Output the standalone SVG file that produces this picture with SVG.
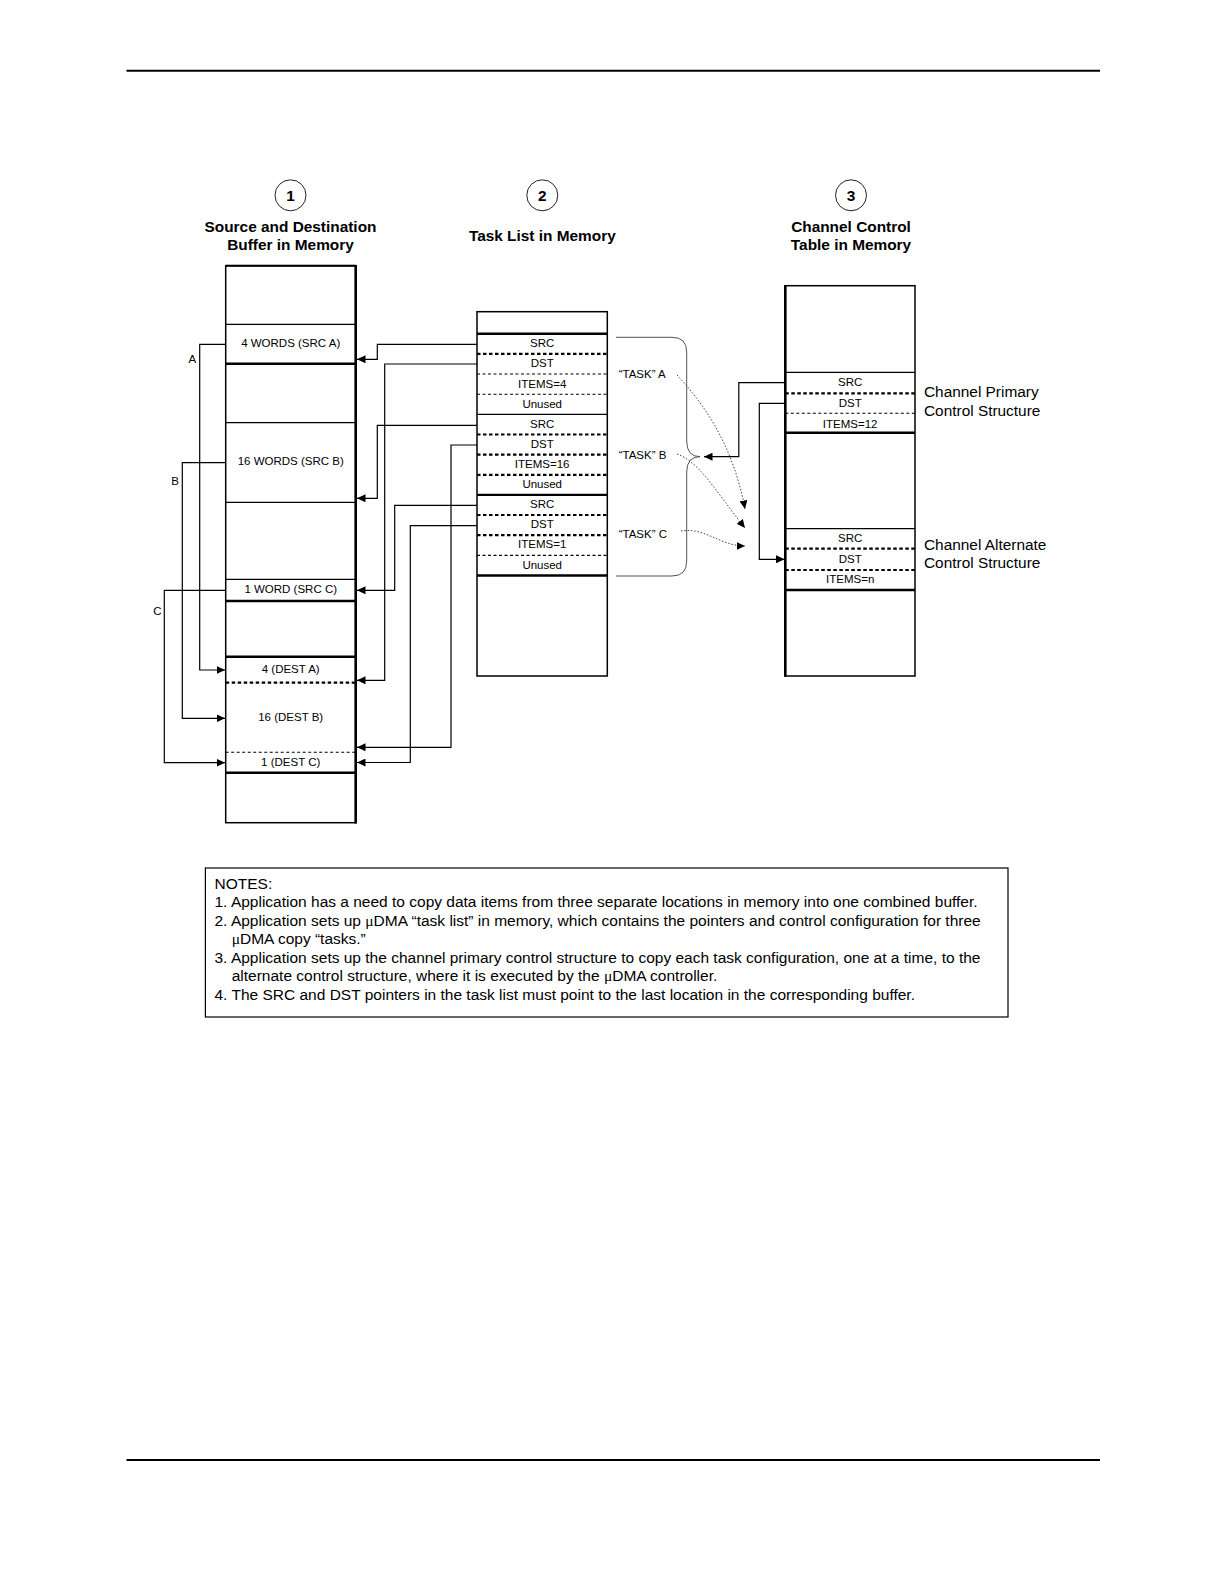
<svg xmlns="http://www.w3.org/2000/svg" width="1224" height="1584" viewBox="0 0 1224 1584">
<defs>
<style>
text{font-family:"Liberation Sans",Arial,sans-serif;fill:#000}
.sm{font-size:11.5px;text-anchor:middle}
.lbl{font-size:11.5px}
.hd{font-size:15.4px;font-weight:bold;text-anchor:middle}
.big{font-size:15.4px}
.nt{font-size:15.5px}
.box{fill:#fff;stroke:#000;stroke-width:1.5}
.thin{stroke:#000;stroke-width:1.2;fill:none}
.thick{stroke:#000;stroke-width:2.4;fill:none}
.dthk{stroke:#000;stroke-width:2.2;stroke-dasharray:3.5 2.5;fill:none}
.dthn{stroke:#000;stroke-width:1.1;stroke-dasharray:3 2.5;fill:none}
.conn{stroke:#000;stroke-width:1.2;fill:none}
.dot{stroke:#444;stroke-width:1;stroke-dasharray:1.5 1.8;fill:none}
.brace{stroke:#555;stroke-width:1;fill:none}
.circ{fill:#fff;stroke:#222;stroke-width:1}
</style>
<marker id="ah" markerUnits="userSpaceOnUse" markerWidth="9" markerHeight="8" refX="8.5" refY="4" orient="auto">
<path d="M0,0 L8.5,4 L0,8 z" fill="#000"/>
</marker>
</defs>
<rect width="1224" height="1584" fill="#fff"/>
<g id="page-rules">
<line x1="126.5" y1="70.8" x2="1100" y2="70.8" stroke="#000" stroke-width="2"/>
<line x1="126.5" y1="1460" x2="1100" y2="1460" stroke="#000" stroke-width="2"/>
</g>

<g id="header-1">
<circle class="circ" cx="290.5" cy="195.3" r="15.5"/>
<text class="hd" x="290.5" y="200.8">1</text>
<text class="hd" x="290.5" y="232">Source and Destination</text>
<text class="hd" x="290.5" y="249.8">Buffer in Memory</text>
</g>
<g id="header-2">
<circle class="circ" cx="542.3" cy="195.3" r="15.5"/>
<text class="hd" x="542.3" y="200.8">2</text>
<text class="hd" x="542.3" y="241.3">Task List in Memory</text>
</g>
<g id="header-3">
<circle class="circ" cx="851" cy="195.3" r="15.5"/>
<text class="hd" x="851" y="200.8">3</text>
<text class="hd" x="851" y="232">Channel Control</text>
<text class="hd" x="851" y="249.8">Table in Memory</text>
</g>

<g id="buffer-memory">
<rect class="box" x="225.7" y="265.7" width="130" height="557"/>
<line x1="225.7" y1="265.7" x2="355.7" y2="265.7" stroke="#000" stroke-width="2"/>
<line x1="355.7" y1="265" x2="355.7" y2="823.5" stroke="#000" stroke-width="2.6"/>
<line class="thin" x1="225.7" y1="324.3" x2="355.7" y2="324.3"/>
<line class="thick" x1="225.7" y1="363.7" x2="355.7" y2="363.7"/>
<line class="thin" x1="225.7" y1="422.7" x2="355.7" y2="422.7"/>
<line class="thin" x1="225.7" y1="502.3" x2="355.7" y2="502.3"/>
<line class="thin" x1="225.7" y1="579.3" x2="355.7" y2="579.3"/>
<line class="thick" x1="225.7" y1="601" x2="355.7" y2="601"/>
<line class="thick" x1="225.7" y1="656.7" x2="355.7" y2="656.7"/>
<line class="dthk" x1="225.7" y1="682.7" x2="355.7" y2="682.7"/>
<line class="dthn" x1="225.7" y1="752.3" x2="355.7" y2="752.3"/>
<line class="thick" x1="225.7" y1="772.7" x2="355.7" y2="772.7"/>
<text class="sm" x="290.7" y="346.8">4 WORDS (SRC A)</text>
<text class="sm" x="290.7" y="465.1">16 WORDS (SRC B)</text>
<text class="sm" x="290.7" y="593.1">1 WORD (SRC C)</text>
<text class="sm" x="290.7" y="673.4">4 (DEST A)</text>
<text class="sm" x="290.7" y="721.4">16 (DEST B)</text>
<text class="sm" x="290.7" y="766.4">1 (DEST C)</text>
</g>

<g id="task-list">
<rect class="box" x="477" y="311.7" width="130.3" height="364.3"/>
<line class="thick" x1="477" y1="333.7" x2="607.3" y2="333.7"/>
<line class="dthk" x1="477" y1="353.8" x2="607.3" y2="353.8"/>
<line class="dthn" x1="477" y1="374" x2="607.3" y2="374"/>
<line class="dthn" x1="477" y1="394.2" x2="607.3" y2="394.2"/>
<line class="thin" x1="477" y1="414.3" x2="607.3" y2="414.3"/>
<line class="dthk" x1="477" y1="434.5" x2="607.3" y2="434.5"/>
<line class="dthk" x1="477" y1="454.6" x2="607.3" y2="454.6"/>
<line class="dthk" x1="477" y1="474.8" x2="607.3" y2="474.8"/>
<line class="thick" x1="477" y1="494.9" x2="607.3" y2="494.9"/>
<line class="dthk" x1="477" y1="515" x2="607.3" y2="515"/>
<line class="dthk" x1="477" y1="535.2" x2="607.3" y2="535.2"/>
<line class="dthn" x1="477" y1="555.4" x2="607.3" y2="555.4"/>
<line class="thick" x1="477" y1="575.5" x2="607.3" y2="575.5"/>
<text class="sm" x="542.2" y="346.8">SRC</text>
<text class="sm" x="542.2" y="366.8">DST</text>
<text class="sm" x="542.2" y="388.1">ITEMS=4</text>
<text class="sm" x="542.2" y="408.1">Unused</text>
<text class="sm" x="542.2" y="428.1">SRC</text>
<text class="sm" x="542.2" y="448.4">DST</text>
<text class="sm" x="542.2" y="468.1">ITEMS=16</text>
<text class="sm" x="542.2" y="487.8">Unused</text>
<text class="sm" x="542.2" y="508.1">SRC</text>
<text class="sm" x="542.2" y="528.1">DST</text>
<text class="sm" x="542.2" y="548.1">ITEMS=1</text>
<text class="sm" x="542.2" y="569.1">Unused</text>
</g>

<g id="channel-control-table">
<rect class="box" x="785.3" y="285.7" width="129.7" height="390.3"/>
<line x1="785.3" y1="285" x2="785.3" y2="676.7" stroke="#000" stroke-width="2.6"/>
<line class="thin" x1="785.3" y1="372.3" x2="915" y2="372.3"/>
<line class="dthk" x1="785.3" y1="393.3" x2="915" y2="393.3"/>
<line class="dthn" x1="785.3" y1="413.3" x2="915" y2="413.3"/>
<line class="thick" x1="785.3" y1="432.7" x2="915" y2="432.7"/>
<line class="thin" x1="785.3" y1="528.7" x2="915" y2="528.7"/>
<line class="dthk" x1="785.3" y1="548.7" x2="915" y2="548.7"/>
<line class="dthk" x1="785.3" y1="570" x2="915" y2="570"/>
<line class="thick" x1="785.3" y1="590" x2="915" y2="590"/>
<text class="sm" x="850.2" y="385.8">SRC</text>
<text class="sm" x="850.2" y="406.8">DST</text>
<text class="sm" x="850.2" y="427.6">ITEMS=12</text>
<text class="sm" x="850.2" y="542.4">SRC</text>
<text class="sm" x="850.2" y="563.4">DST</text>
<text class="sm" x="850.2" y="583.4">ITEMS=n</text>
</g>

<g id="channel-labels">
<text class="big" x="924" y="397">Channel Primary</text>
<text class="big" x="924" y="415.5">Control Structure</text>
<text class="big" x="924" y="549.5">Channel Alternate</text>
<text class="big" x="924" y="567.5">Control Structure</text>
</g>

<g id="task-labels">
<path class="brace" d="M616,337.3 H672 Q686.7,337.3 686.7,352 V441 Q686.7,456.7 700,456.7 Q686.7,456.7 686.7,472 V561 Q686.7,576 672,576 H616"/>
<text class="lbl" x="618.7" y="378.1">“TASK” A</text>
<text class="lbl" x="618.7" y="459.1">“TASK” B</text>
<text class="lbl" x="618.7" y="538.1">“TASK” C</text>
</g>

<g id="connectors">
<path class="conn" marker-end="url(#ah)" d="M477,344.3 H377.3 V359.3 H357"/>
<path class="conn" marker-end="url(#ah)" d="M477,364 H384.7 V680.3 H357"/>
<path class="conn" marker-end="url(#ah)" d="M477,425.3 H377.3 V498.3 H357"/>
<path class="conn" marker-end="url(#ah)" d="M477,445 H451 V747.3 H357"/>
<path class="conn" marker-end="url(#ah)" d="M477,505.3 H394.7 V590.3 H357"/>
<path class="conn" marker-end="url(#ah)" d="M477,525.7 H410.3 V762.5 H357"/>
<path class="conn" marker-end="url(#ah)" d="M225.7,344.3 H199.7 V670 H225"/>
<path class="conn" marker-end="url(#ah)" d="M225.7,462.7 H182.3 V718.3 H225"/>
<path class="conn" marker-end="url(#ah)" d="M225.7,590.3 H164.3 V762.7 H225"/>
<path class="conn" marker-end="url(#ah)" d="M785.3,382.7 H738.8 V456.7 H704"/>
<path class="conn" marker-end="url(#ah)" d="M785.3,403.3 H759.3 V559.3 H784.5"/>
<path class="dot" marker-end="url(#ah)" d="M677,375 C700,400 732,440 745,509"/>
<path class="dot" marker-end="url(#ah)" d="M677,454 C700,462 716,492 745,528"/>
<path class="dot" marker-end="url(#ah)" d="M681,531 C705,527 720,546 745,546"/>
<text class="lbl" x="192.3" y="363.1" text-anchor="middle">A</text>
<text class="lbl" x="175" y="485.1" text-anchor="middle">B</text>
<text class="lbl" x="157.3" y="615.4" text-anchor="middle">C</text>
</g>

<g id="notes">
<rect x="205.4" y="868" width="802.6" height="149" fill="none" stroke="#000" stroke-width="1.2"/>
<text class="nt" x="214.5" y="888.6">NOTES:</text>
<text class="nt" x="214.5" y="907.1">1. Application has a need to copy data items from three separate locations in memory into one combined buffer.</text>
<text class="nt" x="214.5" y="925.7">2. Application sets up <tspan font-family="'Liberation Serif',serif">μ</tspan>DMA “task list” in memory, which contains the pointers and control configuration for three</text>
<text class="nt" x="231.7" y="944.2"><tspan font-family="'Liberation Serif',serif">μ</tspan>DMA copy “tasks.”</text>
<text class="nt" x="214.5" y="962.8">3. Application sets up the channel primary control structure to copy each task configuration, one at a time, to the</text>
<text class="nt" x="231.7" y="981.3">alternate control structure, where it is executed by the <tspan font-family="'Liberation Serif',serif">μ</tspan>DMA controller.</text>
<text class="nt" x="214.5" y="999.9">4. The SRC and DST pointers in the task list must point to the last location in the corresponding buffer.</text>
</g>
</svg>
